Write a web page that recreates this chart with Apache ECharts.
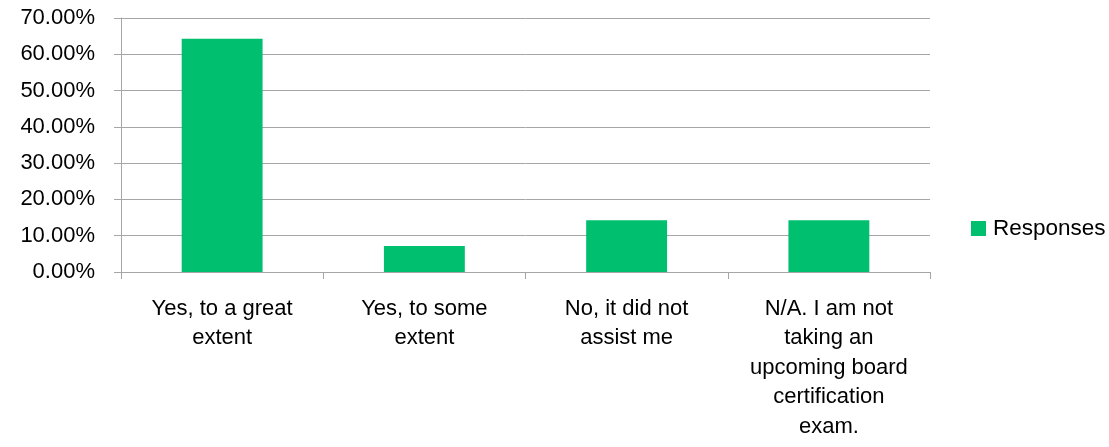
<!DOCTYPE html>
<html>
<head>
<meta charset="utf-8">
<script src="https://cdn.jsdelivr.net/npm/echarts@6/dist/echarts.min.js"></script>
<style>
html,body{margin:0;padding:0;background:#fff;}
#chart{width:1109px;height:447px;}
</style>
</head>
<body>
<div id="chart"></div>
<script>
const categories = [
  "Yes, to a great\nextent",
  "Yes, to some\nextent",
  "No, it did not\nassist me",
  "N/A. I am not\ntaking an\nupcoming board\ncertification\nexam."
];
const responses = [64.29, 7.14, 14.29, 14.29];
const seriesName = "Responses";

const FONT = "Liberation Sans";
const GRAY = "#a6a6a6";
const chart = echarts.init(document.getElementById('chart'), null, {renderer: 'canvas'});
chart.setOption({
  animation: false,
  textStyle: {fontFamily: FONT},
  grid: {left: 121, right: 179, top: 18, bottom: 175, containLabel: false},
  legend: {
    orient: 'vertical',
    left: 966, top: 212,
    icon: 'rect', itemWidth: 15, itemHeight: 15, itemGap: 8,
    textStyle: {fontFamily: FONT, fontSize: 22.5, color: '#000', padding: [0,0,0,2]},
    data: [seriesName]
  },
  xAxis: {
    type: 'category',
    data: categories,
    axisLine: {lineStyle: {color: GRAY, width: 1}},
    axisTick: {show: true, length: 7, lineStyle: {color: GRAY}},
    axisLabel: {fontFamily: FONT, fontSize: 22, color: '#000', lineHeight: 29.5, margin: 22, interval: 0, align: 'center'}
  },
  yAxis: {
    type: 'value',
    min: 0, max: 70, interval: 10,
    axisLine: {show: true, lineStyle: {color: GRAY, width: 1}},
    axisTick: {show: true, length: 7, lineStyle: {color: GRAY}},
    splitLine: {show: true, lineStyle: {color: GRAY, width: 1}},
    axisLabel: {fontFamily: FONT, fontSize: 22, color: '#000', margin: 26,
      formatter: v => v.toFixed(2) + '%'}
  },
  series: [{
    name: seriesName,
    type: 'bar',
    data: responses,
    barWidth: '40%',
    itemStyle: {color: '#00bf6f'}
  }]
});
</script>
</body>
</html>
